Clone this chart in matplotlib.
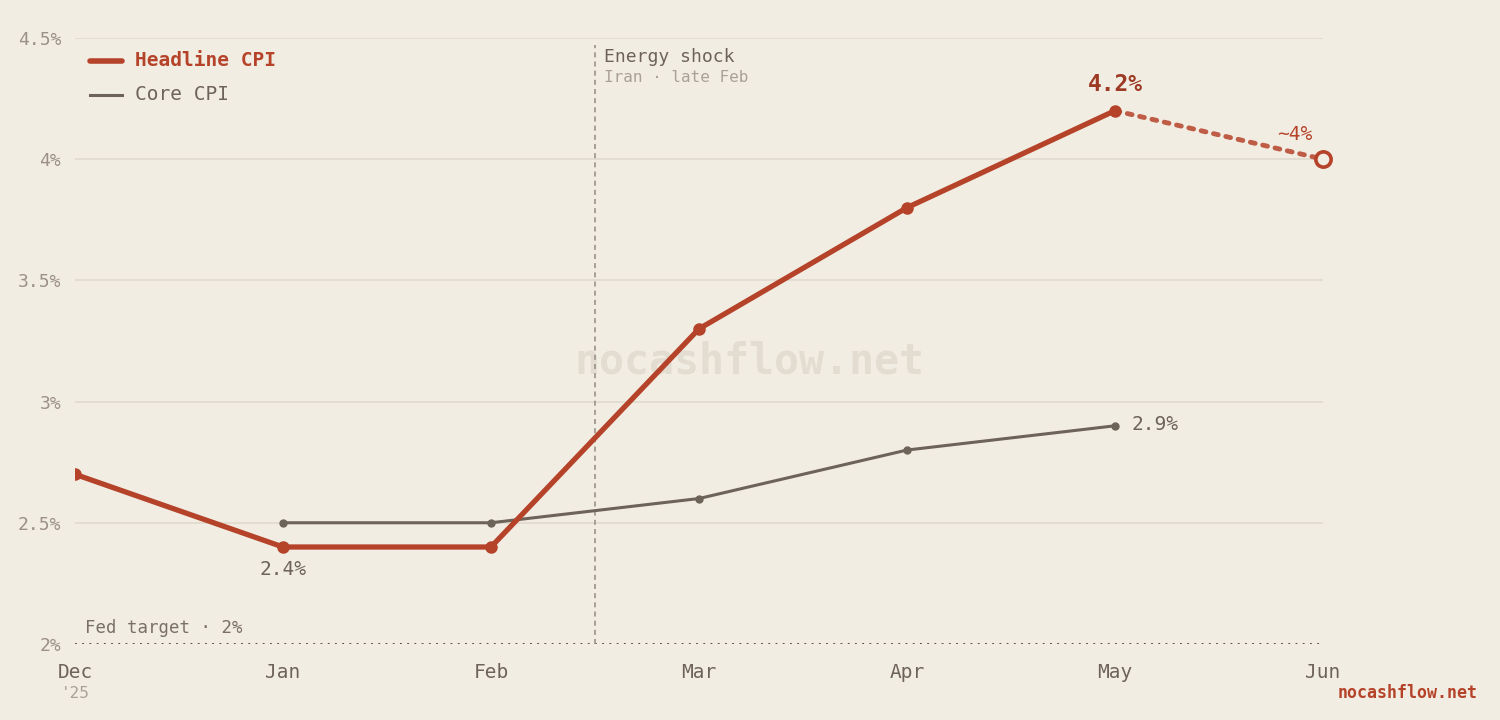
import numpy as np
import matplotlib.pyplot as plt
from matplotlib.lines import Line2D

# Données
months = ["Dec", "Jan", "Feb", "Mar", "Apr", "May", "Jun"]
headline = [2.7, 2.4, 2.4, 3.3, 3.8, 4.2]          # Dec -> May
headline_proj = [4.2, 4.0]                          # May -> Jun (estimation)
core_months = ["Jan", "Feb", "Mar", "Apr", "May"]
core = [2.5, 2.5, 2.6, 2.8, 2.9]
y_ticks = [2.0, 2.5, 3.0, 3.5, 4.0, 4.5]
y_labels = ["2%", "2.5%", "3%", "3.5%", "4%", "4.5%"]
fed_target = 2.0
shock_pos = 2.5  # entre Feb et Mar

BG = "#f2ede3"
RED = "#b5432a"
CORE = "#6e6358"
GRID = "#e2dbce"
MUTED = "#9b9187"

plt.rcParams['font.family'] = ['DejaVu Sans Mono']

fig = plt.figure(figsize=(15, 7.2), dpi=100, facecolor=BG)
ax = fig.add_axes([0.05, 0.1056, 0.832, 0.8417], facecolor=BG)

x = np.arange(len(months))
xh = x[:len(headline)]
xc = np.array([months.index(m) for m in core_months])

ax.set_xlim(0, 6)
ax.set_ylim(2.0, 4.5)

# grille horizontale
for t in y_ticks[1:]:
    ax.axhline(t, color=GRID, lw=1.3, zorder=0)
ax.axhline(fed_target, color="#4a4038", lw=1.3, ls=(0, (1, 3)), zorder=1)

# choc énergétique
ax.axvline(shock_pos, ymin=0, ymax=0.988, color="#9b9187", lw=1.2, ls=(0, (3, 2.5)), zorder=1)
ax.text(shock_pos + 0.043, 4.42, "Energy shock", color=CORE, fontsize=13, va="center")
ax.text(shock_pos + 0.043, 4.335, "Iran · late Feb", color="#aaa196", fontsize=11.5, va="center")

# watermark
ax.text(3.245, 3.165, "nocashflow.net", color="#e3ddd1", fontsize=30, fontweight="bold",
        ha="center", va="center", zorder=0)

# séries
ax.plot(xc, core, color=CORE, lw=2.2, marker="o", ms=5, zorder=3)
ax.plot(xh, headline, color=RED, lw=3.8, marker="o", ms=8, zorder=4, solid_capstyle="round")
ax.plot(x[5:7], headline_proj, color=RED, lw=3.5, ls=(0, (1, 1.6)), alpha=0.85,
        dash_capstyle="round", zorder=4)
ax.plot(x[6], headline_proj[-1], marker="o", ms=11, mfc=BG, mec=RED, mew=2.6,
        zorder=5, clip_on=False)

# étiquettes
ax.text(xh[1], 2.306, "2.4%", color=CORE, fontsize=14, ha="center", va="center")
ax.text(xh[5], 4.31, "4.2%", color="#9c3a24", fontsize=16.5, fontweight="bold", ha="center", va="center")
ax.text(5.95, 4.1, "~4%", color=RED, fontsize=14, ha="right", va="center")
ax.text(xc[-1] + 0.08, 2.905, "2.9%", color=CORE, fontsize=14, ha="left", va="center")
ax.text(0.05, 2.067, "Fed target · 2%", color="#7a6f64", fontsize=12.5, ha="left", va="center")

# légende manuelle
ax.add_line(Line2D([0.012, 0.038], [0.962, 0.962], transform=ax.transAxes, color=RED,
                   lw=4, solid_capstyle="round"))
ax.text(0.048, 0.962, "Headline CPI", transform=ax.transAxes, color=RED, fontsize=14,
        fontweight="bold", va="center")
ax.add_line(Line2D([0.012, 0.038], [0.906, 0.906], transform=ax.transAxes, color=CORE,
                   lw=2.2))
ax.text(0.048, 0.906, "Core CPI", transform=ax.transAxes, color=CORE, fontsize=14, va="center")

# axes
ax.set_xticks(x)
ax.set_xticklabels(months, color=CORE, fontsize=14)
ax.set_yticks(y_ticks)
ax.set_yticklabels(y_labels, color=MUTED, fontsize=13)
ax.tick_params(axis="both", length=0)
ax.tick_params(axis="x", pad=14)
ax.tick_params(axis="y", pad=10)
for s in ax.spines.values():
    s.set_visible(False)

fig.text(0.05, 0.037, "'25", color="#aaa196", fontsize=11.5, ha="center", va="center")
fig.text(0.985, 0.037, "nocashflow.net", color=RED, fontsize=12, fontweight="bold",
         ha="right", va="center")

fig.savefig("out.png", dpi=100, facecolor=BG)
